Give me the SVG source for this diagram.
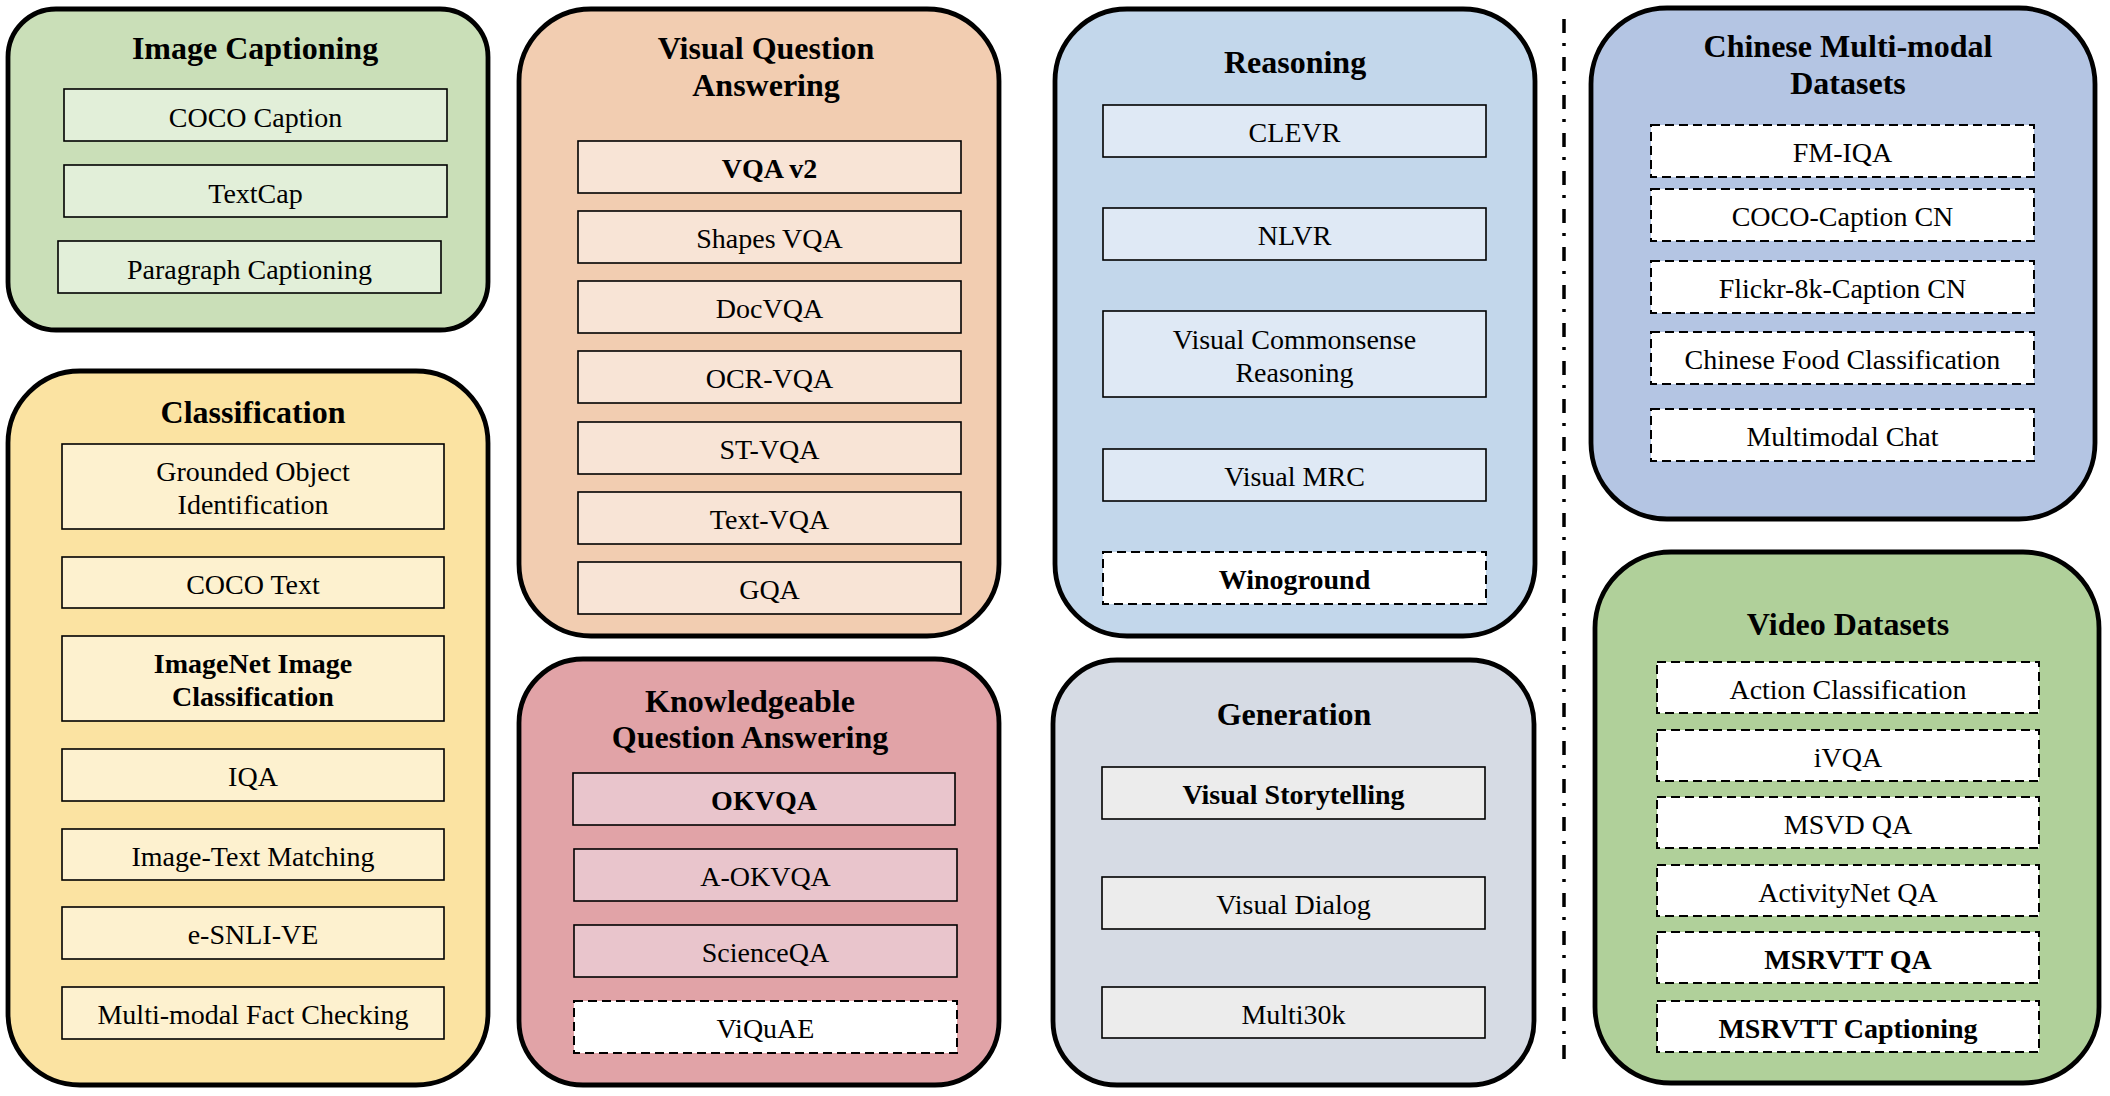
<svg xmlns="http://www.w3.org/2000/svg" width="2110" height="1096" viewBox="0 0 2110 1096">
  <style>
    text { font-family: "Liberation Serif", "Times New Roman", serif; fill: #000; text-anchor: middle; }
    .title { font-size: 32px; font-weight: bold; }
    .item { font-size: 28px; transform: translateY(1.2px); }
    .b { font-weight: bold; }
    .panel { stroke: #000; stroke-width: 4.8; }
    .box { stroke: #000; stroke-width: 1.6; }
    .dash { fill: #fff; stroke: #000; stroke-width: 2; stroke-dasharray: 9 5; }
    .ic-o { fill: #cadfb8; } .ic-i { fill: #e2efd9; }
    .cl-o { fill: #fbe3a2; } .cl-i { fill: #fdf1cf; }
    .vq-o { fill: #f2cdb1; } .vq-i { fill: #f8e4d6; }
    .kq-o { fill: #e1a3a7; } .kq-i { fill: #e9c5cc; }
    .re-o { fill: #c3d7eb; } .re-i { fill: #dfe9f5; }
    .ge-o { fill: #d6dbe4; } .ge-i { fill: #ececec; }
    .cn-o { fill: #b4c5e3; }
    .vd-o { fill: #b0d09a; }
    .sep { stroke: #000; stroke-width: 3.5; stroke-dasharray: 14 10 3 11; fill: none; }
  </style>

  <rect width="2110" height="1096" fill="#fff"/>

  <!-- Image Captioning -->
  <g id="image-captioning">
    <rect class="panel ic-o" x="8" y="9" width="480" height="321" rx="48"/>
    <text class="title" x="255" y="59">Image Captioning</text>
    <rect class="box ic-i" x="64" y="89" width="383" height="52"/>
    <text class="item" x="255.5" y="126">COCO Caption</text>
    <rect class="box ic-i" x="64" y="165" width="383" height="52"/>
    <text class="item" x="255.5" y="202">TextCap</text>
    <rect class="box ic-i" x="58" y="241" width="383" height="52"/>
    <text class="item" x="249.5" y="278">Paragraph Captioning</text>
  </g>

  <!-- Classification -->
  <g id="classification">
    <rect class="panel cl-o" x="8" y="371" width="480" height="714" rx="72"/>
    <text class="title" x="253" y="423">Classification</text>
    <rect class="box cl-i" x="62" y="444" width="382" height="85"/>
    <text class="item" x="253" y="480">Grounded Object</text>
    <text class="item" x="253" y="513">Identification</text>
    <rect class="box cl-i" x="62" y="557" width="382" height="51"/>
    <text class="item" x="253" y="593">COCO Text</text>
    <rect class="box cl-i" x="62" y="636" width="382" height="85"/>
    <text class="item b" x="253" y="672">ImageNet Image</text>
    <text class="item b" x="253" y="705">Classification</text>
    <rect class="box cl-i" x="62" y="749" width="382" height="52"/>
    <text class="item" x="253" y="785">IQA</text>
    <rect class="box cl-i" x="62" y="829" width="382" height="51"/>
    <text class="item" x="253" y="865">Image-Text Matching</text>
    <rect class="box cl-i" x="62" y="907" width="382" height="52"/>
    <text class="item" x="253" y="943">e-SNLI-VE</text>
    <rect class="box cl-i" x="62" y="987" width="382" height="52"/>
    <text class="item" x="253" y="1023">Multi-modal Fact Checking</text>
  </g>

  <!-- Visual Question Answering -->
  <g id="vqa">
    <rect class="panel vq-o" x="519" y="9" width="480" height="627" rx="72"/>
    <text class="title" x="766" y="59">Visual Question</text>
    <text class="title" x="766" y="96">Answering</text>
    <rect class="box vq-i" x="578" y="141" width="383" height="52"/>
    <text class="item b" x="769.5" y="177">VQA v2</text>
    <rect class="box vq-i" x="578" y="211" width="383" height="52"/>
    <text class="item" x="769.5" y="247">Shapes VQA</text>
    <rect class="box vq-i" x="578" y="281" width="383" height="52"/>
    <text class="item" x="769.5" y="317">DocVQA</text>
    <rect class="box vq-i" x="578" y="351" width="383" height="52"/>
    <text class="item" x="769.5" y="387">OCR-VQA</text>
    <rect class="box vq-i" x="578" y="422" width="383" height="52"/>
    <text class="item" x="769.5" y="458">ST-VQA</text>
    <rect class="box vq-i" x="578" y="492" width="383" height="52"/>
    <text class="item" x="769.5" y="528">Text-VQA</text>
    <rect class="box vq-i" x="578" y="562" width="383" height="52"/>
    <text class="item" x="769.5" y="598">GQA</text>
  </g>

  <!-- Knowledgeable Question Answering -->
  <g id="knowledgeable-qa">
    <rect class="panel kq-o" x="519" y="659" width="480" height="426" rx="64"/>
    <text class="title" x="750" y="712">Knowledgeable</text>
    <text class="title" x="750" y="748">Question Answering</text>
    <rect class="box kq-i" x="573" y="773" width="382" height="52"/>
    <text class="item b" x="764" y="809">OKVQA</text>
    <rect class="box kq-i" x="574" y="849" width="383" height="52"/>
    <text class="item" x="765.5" y="885">A-OKVQA</text>
    <rect class="box kq-i" x="574" y="925" width="383" height="52"/>
    <text class="item" x="765.5" y="961">ScienceQA</text>
    <rect class="dash" x="574" y="1001" width="383" height="52"/>
    <text class="item" x="765.5" y="1037">ViQuAE</text>
  </g>

  <!-- Reasoning -->
  <g id="reasoning">
    <rect class="panel re-o" x="1055" y="9" width="480" height="627" rx="72"/>
    <text class="title" x="1295" y="73">Reasoning</text>
    <rect class="box re-i" x="1103" y="105" width="383" height="52"/>
    <text class="item" x="1294.5" y="141">CLEVR</text>
    <rect class="box re-i" x="1103" y="208" width="383" height="52"/>
    <text class="item" x="1294.5" y="244">NLVR</text>
    <rect class="box re-i" x="1103" y="311" width="383" height="86"/>
    <text class="item" x="1294.5" y="348">Visual Commonsense</text>
    <text class="item" x="1294.5" y="381">Reasoning</text>
    <rect class="box re-i" x="1103" y="449" width="383" height="52"/>
    <text class="item" x="1294.5" y="485">Visual MRC</text>
    <rect class="dash" x="1103" y="552" width="383" height="52"/>
    <text class="item b" x="1294.5" y="588">Winoground</text>
  </g>

  <!-- Generation -->
  <g id="generation">
    <rect class="panel ge-o" x="1053" y="660" width="481" height="425" rx="64"/>
    <text class="title" x="1294" y="725">Generation</text>
    <rect class="box ge-i" x="1102" y="767" width="383" height="52"/>
    <text class="item b" x="1293.5" y="803">Visual Storytelling</text>
    <rect class="box ge-i" x="1102" y="877" width="383" height="52"/>
    <text class="item" x="1293.5" y="913">Visual Dialog</text>
    <rect class="box ge-i" x="1102" y="987" width="383" height="51"/>
    <text class="item" x="1293.5" y="1023">Multi30k</text>
  </g>

  <!-- Dash-dot divider between the two groups of panels -->
  <g id="separator">
    <line class="sep" x1="1564" y1="19" x2="1564" y2="1066"/>
  </g>

  <!-- Chinese Multi-modal Datasets -->
  <g id="chinese-datasets">
    <rect class="panel cn-o" x="1591" y="8" width="504" height="511" rx="76"/>
    <text class="title" x="1848" y="57">Chinese Multi-modal</text>
    <text class="title" x="1848" y="94">Datasets</text>
    <rect class="dash" x="1651" y="125" width="383" height="52"/>
    <text class="item" x="1842.5" y="161">FM-IQA</text>
    <rect class="dash" x="1651" y="189" width="383" height="52"/>
    <text class="item" x="1842.5" y="225">COCO-Caption CN</text>
    <rect class="dash" x="1651" y="261" width="383" height="52"/>
    <text class="item" x="1842.5" y="297">Flickr-8k-Caption CN</text>
    <rect class="dash" x="1651" y="332" width="383" height="52"/>
    <text class="item" x="1842.5" y="368">Chinese Food Classification</text>
    <rect class="dash" x="1651" y="409" width="383" height="52"/>
    <text class="item" x="1842.5" y="445">Multimodal Chat</text>
  </g>

  <!-- Video Datasets -->
  <g id="video-datasets">
    <rect class="panel vd-o" x="1595" y="552" width="504" height="531" rx="76"/>
    <text class="title" x="1848" y="635">Video Datasets</text>
    <rect class="dash" x="1657" y="662" width="382" height="51"/>
    <text class="item" x="1848" y="698">Action Classification</text>
    <rect class="dash" x="1657" y="730" width="382" height="51"/>
    <text class="item" x="1848" y="766">iVQA</text>
    <rect class="dash" x="1657" y="797" width="382" height="51"/>
    <text class="item" x="1848" y="833">MSVD QA</text>
    <rect class="dash" x="1657" y="865" width="382" height="51"/>
    <text class="item" x="1848" y="901">ActivityNet QA</text>
    <rect class="dash" x="1657" y="932" width="382" height="51"/>
    <text class="item b" x="1848" y="968">MSRVTT QA</text>
    <rect class="dash" x="1657" y="1001" width="382" height="51"/>
    <text class="item b" x="1848" y="1037">MSRVTT Captioning</text>
  </g>
</svg>
